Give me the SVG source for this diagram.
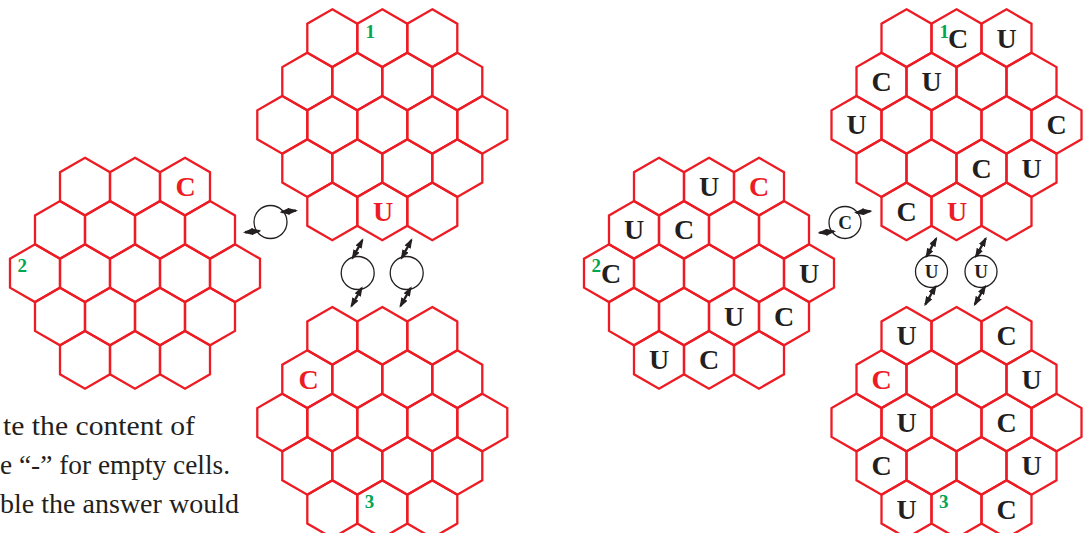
<svg xmlns="http://www.w3.org/2000/svg" xmlns:xlink="http://www.w3.org/1999/xlink" width="1083" height="533" viewBox="0 0 1083 533">
<style>
.hex{fill:none;stroke:#ed1c24;stroke-width:2.3;stroke-linejoin:miter}
.L{font-family:"Liberation Serif",serif;font-weight:bold;font-size:28px;text-anchor:middle;fill:#231f20}
.R{fill:#ed1c24}
.G{font-family:"Liberation Serif",serif;font-weight:bold;font-size:19px;fill:#00a651}
.S{font-family:"Liberation Serif",serif;font-weight:bold;font-size:19px;text-anchor:middle;fill:#231f20}
.circ{fill:none;stroke:#231f20;stroke-width:1.3}
.arr{fill:none;stroke:#231f20;stroke-width:2.4;marker-start:url(#ah);marker-end:url(#ah)}
.body{font-family:"Liberation Serif",serif;font-size:28px;fill:#231f20}
</style>
<defs>
<marker id="ah" markerUnits="userSpaceOnUse" markerWidth="10" markerHeight="7" refX="8" refY="3.5" orient="auto-start-reverse">
<path d="M0,0 L10,3.5 L0,7 z" fill="#231f20"/>
</marker>
<polygon id="hex" class="hex" points="0,-28.87 25,-14.43 25,14.43 0,28.87 -25,14.43 -25,-14.43"/>
<g id="grid">
<use xlink:href="#hex" x="-50" y="-86.6"/><use xlink:href="#hex" x="0" y="-86.6"/><use xlink:href="#hex" x="50" y="-86.6"/>
<use xlink:href="#hex" x="-75" y="-43.3"/><use xlink:href="#hex" x="-25" y="-43.3"/><use xlink:href="#hex" x="25" y="-43.3"/><use xlink:href="#hex" x="75" y="-43.3"/>
<use xlink:href="#hex" x="-100" y="0"/><use xlink:href="#hex" x="-50" y="0"/><use xlink:href="#hex" x="0" y="0"/><use xlink:href="#hex" x="50" y="0"/><use xlink:href="#hex" x="100" y="0"/>
<use xlink:href="#hex" x="-75" y="43.3"/><use xlink:href="#hex" x="-25" y="43.3"/><use xlink:href="#hex" x="25" y="43.3"/><use xlink:href="#hex" x="75" y="43.3"/>
<use xlink:href="#hex" x="-50" y="86.6"/><use xlink:href="#hex" x="0" y="86.6"/><use xlink:href="#hex" x="50" y="86.6"/>
</g>
</defs>
<rect width="1083" height="533" fill="#ffffff"/>

<g id="gridA">
<use xlink:href="#grid" x="135" y="273.2"/>
<text class="L R" x="185.5" y="196">C</text>
<text class="G" x="17.5" y="272">2</text>
</g>

<g id="gridB">
<use xlink:href="#grid" x="382.3" y="124.8"/>
<text class="G" x="365.5" y="37.5">1</text>
<text class="L R" x="383" y="221">U</text>
</g>

<g id="gridC">
<use xlink:href="#grid" x="382.3" y="422.5"/>
<text class="L R" x="308.5" y="389">C</text>
<text class="G" x="364.8" y="508">3</text>
</g>

<g id="gridD">
<use xlink:href="#grid" x="709" y="273.2"/>
<text class="L" x="709" y="196">U</text>
<text class="L R" x="759" y="196">C</text>
<text class="L" x="634" y="239.3">U</text>
<text class="L" x="684" y="239.3">C</text>
<text class="G" x="591.5" y="272">2</text>
<text class="L" x="611" y="282.6">C</text>
<text class="L" x="809" y="282.6">U</text>
<text class="L" x="734" y="325.9">U</text>
<text class="L" x="784" y="325.9">C</text>
<text class="L" x="659" y="369.2">U</text>
<text class="L" x="709" y="369.2">C</text>
</g>

<g id="gridE">
<use xlink:href="#grid" x="956.5" y="124.8"/>
<text class="G" x="939.5" y="37.5">1</text>
<text class="L" x="958" y="47.6">C</text>
<text class="L" x="1006.5" y="47.6">U</text>
<text class="L" x="881.5" y="90.9">C</text>
<text class="L" x="931.5" y="90.9">U</text>
<text class="L" x="856.5" y="134.2">U</text>
<text class="L" x="1056.5" y="134.2">C</text>
<text class="L" x="981.5" y="177.5">C</text>
<text class="L" x="1031.5" y="177.5">U</text>
<text class="L" x="906.5" y="220.8">C</text>
<text class="L R" x="957" y="220.8">U</text>
</g>

<g id="gridF">
<use xlink:href="#grid" x="956.5" y="422.5"/>
<text class="L" x="906.5" y="345.3">U</text>
<text class="L" x="1006.5" y="345.3">C</text>
<text class="L R" x="881.5" y="388.6">C</text>
<text class="L" x="1031.5" y="388.6">U</text>
<text class="L" x="906.5" y="431.9">U</text>
<text class="L" x="1006.5" y="431.9">C</text>
<text class="L" x="881.5" y="475.2">C</text>
<text class="L" x="1031.5" y="475.2">U</text>
<text class="L" x="906.5" y="518.5">U</text>
<text class="G" x="939" y="508">3</text>
<text class="L" x="1006.5" y="518.5">C</text>
</g>

<g id="connectors">
<g id="rotL">
<circle class="circ" cx="270.5" cy="222" r="16.5"/>
<path class="arr" d="M281.5,212 L296,210.6"/>
<path class="arr" d="M259.5,231 L245,232.3"/>
</g>
<g id="spinL1">
<circle class="circ" cx="357.7" cy="273" r="16.5"/>
<path class="arr" d="M352.7,258 L362.4,240"/>
<path class="arr" d="M361.7,288 L351.5,306"/>
</g>
<g id="spinL2">
<circle class="circ" cx="406.7" cy="273" r="16.5"/>
<path class="arr" d="M401.7,258 L411.4,240"/>
<path class="arr" d="M410.7,288 L400.5,306"/>
</g>
<g id="rotR">
<circle class="circ" cx="845" cy="222.5" r="16"/>
<text class="S" x="845" y="229">C</text>
<path class="arr" d="M856,212.5 L870.5,211.1"/>
<path class="arr" d="M834,231.5 L819.5,232.8"/>
</g>
<g id="spinR1">
<circle class="circ" cx="931.5" cy="271.5" r="16"/>
<text class="S" x="931.5" y="278">U</text>
<path class="arr" d="M926.5,256.5 L936.2,238.5"/>
<path class="arr" d="M935.5,286.5 L925.3,304.5"/>
</g>
<g id="spinR2">
<circle class="circ" cx="981" cy="271.5" r="16"/>
<text class="S" x="981" y="278">U</text>
<path class="arr" d="M976,256.5 L985.7,238.5"/>
<path class="arr" d="M985,286.5 L974.8,304.5"/>
</g>
</g>

<g id="caption">
<text class="body" x="3" y="435" textLength="192" lengthAdjust="spacingAndGlyphs">te the content of</text>
<text class="body" x="0" y="474.3" textLength="230" lengthAdjust="spacingAndGlyphs">e “-” for empty cells.</text>
<text class="body" x="0" y="513.3" textLength="239" lengthAdjust="spacingAndGlyphs">ble the answer would</text>
</g>
</svg>
